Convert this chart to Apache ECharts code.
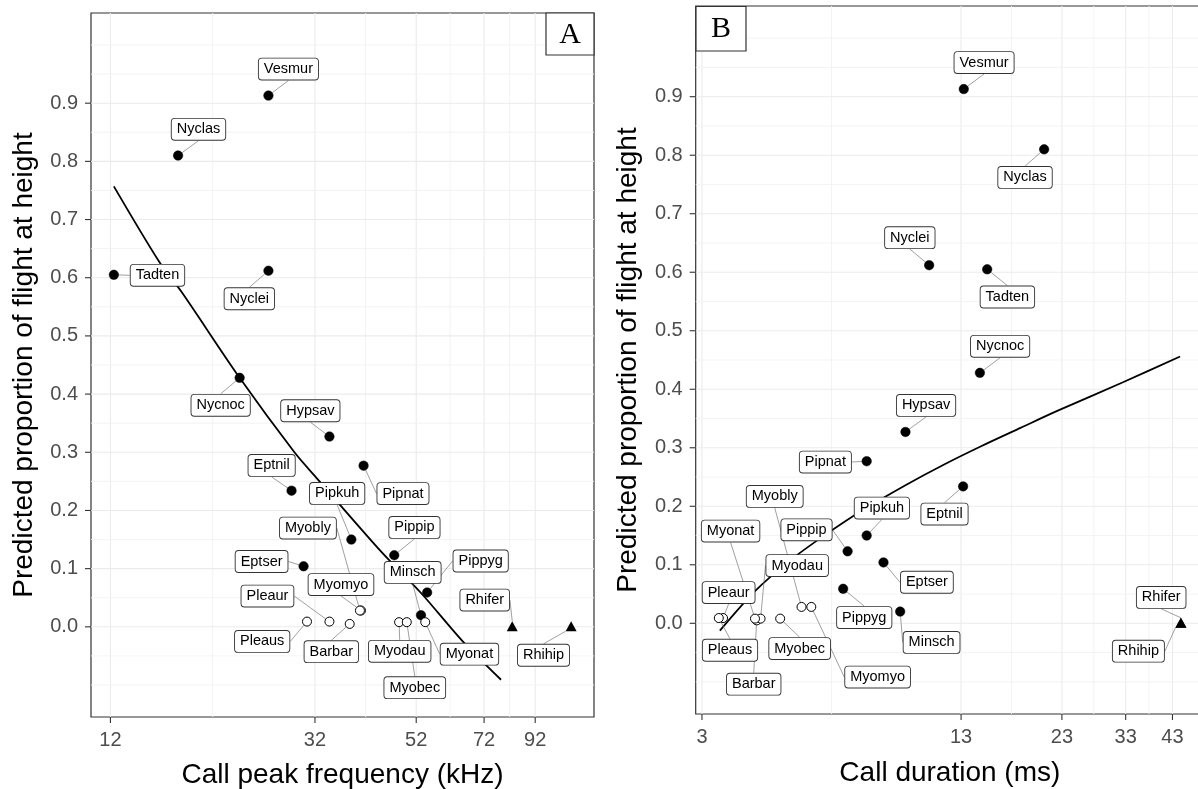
<!DOCTYPE html>
<html><head><meta charset="utf-8">
<script src="https://cdn.jsdelivr.net/npm/echarts@6/dist/echarts.min.js"></script>
<style>html,body{margin:0;padding:0;background:#fff}#c{width:1198px;height:789px}</style>
</head><body><div id="c"></div>
<script>
// ---------------- data ----------------
const species = ['Vesmur','Nyclas','Tadten','Nyclei','Nycnoc','Hypsav','Pipnat','Eptnil','Pipkuh','Pippip','Eptser','Pippyg','Minsch','Myomyo','Myobly','Pleaur','Pleaus','Barbar','Myodau','Myobec','Myonat','Rhifer','Rhihip'];
const markerType = ['filled','filled','filled','filled','filled','filled','filled','filled','filled','filled','filled','filled','filled','open','open','open','open','open','open','open','open','triangle','triangle'];
const propFlight = [0.913,0.810,0.605,0.612,0.428,0.327,0.277,0.234,0.150,0.123,0.104,0.059,0.020,0.028,0.028,0.009,0.009,0.005,0.008,0.008,0.008,0.001,0.001];
const peakFreq = [25.6,16.6,12.2,25.6,22.3,34.3,40.4,28.6,38.1,46.8,30.3,54.8,53.2,39.9,39.7,34.3,30.8,37.8,47.9,49.7,54.3,82.4,109.3];
const callDuration = [13.2,20.8,15.07,10.85,14.46,9.49,7.62,13.15,7.62,6.84,8.38,6.67,9.21,5.57,5.27,3.38,3.30,4.09,4.18,4.67,4.05,45.1,45.1];

const fitFreqKHz = [12.2,15.2,16.9,22.3,29.0,32.4,44.2,53.1,65.0,78.1];
const fitFreqProp = [0.757,0.626,0.575,0.428,0.300,0.254,0.127,0.059,-0.025,-0.091];
const fitDurMs = [3.32,4.05,4.95,6.05,7.39,9.49,11.78,14.6,18.2,22.4,32.5,44.9];
const fitDurProp = [-0.0125,0.055,0.108,0.152,0.192,0.236,0.271,0.303,0.334,0.363,0.412,0.456];

const freqTicks = [12,32,52,72,92];
const durTicks = [3,13,23,33,43];
const propTicks = [0,0.1,0.2,0.3,0.4,0.5,0.6,0.7,0.8,0.9];
const propLimits = [-0.1, 1.0];

// label placement (pixel offsets of label centre from its point)
const labelOffsetA = [[20,-26.5],[20.4,-26.2],[43.6,0.5],[-19.1,28],[-19,27.5],[-19.1,-25.8],[39.4,27.9],[-19.9,-25.2],[-14.2,-46.1],[20.2,-27.8],[-42,-4.8],[53.5,-31.5],[-8.3,-42.8],[-20,-26],[-52,-82.5],[-62,-25.5],[-44.8,19.8],[-18.4,27.8],[0.6,29.2],[8,65.5],[44.2,32],[-27.5,-26.2],[-27.6,29]];
const labelOffsetB = [[20.3,-26.5],[-19.1,28.1],[20.2,27.7],[-19.3,-27.5],[20.2,-26.5],[20.6,-26.5],[-41.3,0.8],[-18.6,27.7],[15.2,-27.5],[-41.1,-21.5],[43.4,19.8],[21.1,28.8],[31.4,30.8],[66.3,70.2],[-26.8,-110.5],[5.6,-25.5],[11.2,32.2],[-3,63.8],[36.6,-53],[19.5,30],[-24.4,-87.5],[-19.7,-25.3],[-42.5,28.5]];

// ---------------- helpers ----------------
const SANS = 'Liberation Sans, Arial, sans-serif';
const SERIF = 'Liberation Serif, Times New Roman, serif';
const ln = Math.log;
function expandLog(vals){ const a = Math.min(...vals.map(ln)), b = Math.max(...vals.map(ln)); const d=(b-a)*0.05; return [a-d,b+d]; }
const yExt = [propLimits[0]-(propLimits[1]-propLimits[0])*0.05, propLimits[1]+(propLimits[1]-propLimits[0])*0.05];
const xExtA = expandLog(peakFreq);
const xExtB = expandLog(callDuration);

// items: [value, kind, major]; kind 1 = vertical grid line, 0 = horizontal grid line, 2 = x tick, 3 = y tick
function gridData(ticks){
  const out = [];
  const lt = ticks.map(ln);
  lt.forEach(v => { out.push([v,1,1]); out.push([v,2,1]); });
  for (let i=0;i<lt.length-1;i++) out.push([(lt[i]+lt[i+1])/2,1,0]);
  for (let k=-2;k<=20;k++){ const v=k*0.05; if (v>=yExt[0] && v<=yExt[1]) { const major = (k>=0 && k<=18 && k%2===0); out.push([v,0,major?1:0]); } }
  propTicks.forEach(v => out.push([v,3,1]));
  return out;
}
function gridSeries(idx, ticks, xExt){
  return {
    type:'custom', xAxisIndex:idx, yAxisIndex:idx, z:0, silent:true, clip:false,
    data: gridData(ticks),
    renderItem: function(params, api){
      const v = api.value(0), kind = api.value(1), major = api.value(2);
      let p1, p2, stroke = major? '#EBEBEB':'#F2F2F2', lw = major?1.1:0.9;
      if (kind === 1){ p1 = api.coord([v, yExt[0]]); p2 = api.coord([v, yExt[1]]); }
      else if (kind === 0){ p1 = api.coord([xExt[0], v]); p2 = api.coord([xExt[1], v]); }
      else if (kind === 2){ p1 = api.coord([v, yExt[0]]); p2 = [p1[0], p1[1]+6]; stroke='#333'; lw=1.1; }
      else { p1 = api.coord([xExt[0], v]); p2 = [p1[0]-6, p1[1]]; stroke='#333'; lw=1.1; }
      return {type:'line', shape:{x1:p1[0],y1:p1[1],x2:p2[0],y2:p2[1]}, style:{stroke:stroke, lineWidth:lw}};
    }
  };
}
function pointData(xs){
  return species.map((s,i)=>{
    const t = markerType[i];
    const item = {name:s, value:[ln(xs[i]), propFlight[i]]};
    if (t==='filled'){ item.symbol='circle'; item.symbolSize=9.5; item.itemStyle={color:'#000', borderColor:'#000', borderWidth:0.5, opacity:1}; }
    else if (t==='open'){ item.symbol='circle'; item.symbolSize=9; item.itemStyle={color:'#fff', borderColor:'#000', borderWidth:1, opacity:1}; }
    else { item.symbol='triangle'; item.symbolSize=[11,10]; item.itemStyle={color:'#000', opacity:1}; }
    return item;
  });
}
function pointSeries(idx, xs, offsets){
  return {
    type:'scatter', xAxisIndex:idx, yAxisIndex:idx, z:4, silent:true,
    data: pointData(xs),
    label:{show:true, position:'inside', formatter: p=>p.name, color:'#000', fontFamily:SANS, fontSize:14.5,
      lineHeight:15, backgroundColor:'#fff', borderColor:'#333', borderWidth:0.9, borderRadius:3, padding:[3,5,3,5]},
    labelLine:{show:true, length2:0, lineStyle:{color:'#777', width:0.7}},
    labelLayout: function(p){ const o = offsets[p.dataIndex]; return {dx:o[0], dy:o[1]}; }
  };
}
function fitSeries(idx, xs, ys){
  return {type:'line', xAxisIndex:idx, yAxisIndex:idx, z:3, silent:true, showSymbol:false, smooth:0.3,
    data: xs.map((x,i)=>[ln(x), ys[i]]), lineStyle:{color:'#000', width:1.8}};
}
function xAxis(idx, ticks, ext, name, gap){
  return {type:'value', gridIndex:idx, min:ext[0], max:ext[1],
    axisLine:{show:false, onZero:false}, splitLine:{show:false}, axisTick:{show:false},
    axisLabel:{customValues: ticks.map(ln), formatter: v=>String(Math.round(Math.exp(v))), color:'#4D4D4D', fontSize:20, fontFamily:SANS, margin:13},
    name:name, nameLocation:'middle', nameGap:gap, nameTextStyle:{color:'#000', fontSize:28, fontFamily:SANS}};
}
function yAxis(idx){
  return {type:'value', gridIndex:idx, min:yExt[0], max:yExt[1],
    axisLine:{show:false, onZero:false}, splitLine:{show:false}, axisTick:{show:false},
    axisLabel:{customValues: propTicks, formatter: v=>v.toFixed(1), color:'#4D4D4D', fontSize:20, fontFamily:SANS, margin:13},
    name:'Predicted proportion of flight at height', nameLocation:'middle', nameGap:53, nameRotate:90,
    nameTextStyle:{color:'#000', fontSize:28, fontFamily:SANS}};
}

const chart = echarts.init(document.getElementById('c'), null, {renderer:'canvas'});
chart.setOption({
  animation:false,
  backgroundColor:'#fff',
  grid:[
    {left:91, top:13, width:503, height:704, show:true, borderColor:'#333', borderWidth:1.2, backgroundColor:'transparent', containLabel:false, outerBoundsMode:'none'},
    {left:695.7, top:6, width:508.3, height:708, show:true, borderColor:'#333', borderWidth:1.2, backgroundColor:'transparent', containLabel:false, outerBoundsMode:'none'}
  ],
  xAxis:[ xAxis(0, freqTicks, xExtA, 'Call peak frequency (kHz)', 44), xAxis(1, durTicks, xExtB, 'Call duration (ms)', 45) ],
  yAxis:[ yAxis(0), yAxis(1) ],
  series:[
    gridSeries(0, freqTicks, xExtA), gridSeries(1, durTicks, xExtB),
    fitSeries(0, fitFreqKHz, fitFreqProp), fitSeries(1, fitDurMs, fitDurProp),
    pointSeries(0, peakFreq, labelOffsetA), pointSeries(1, callDuration, labelOffsetB)
  ],
  graphic:[
    {type:'rect', z:50, shape:{x:546, y:13, width:48, height:42}, style:{fill:'#fff', stroke:'#333', lineWidth:1.2}},
    {type:'text', z:51, x:570, y:35, style:{text:'A', font:'30px '+SERIF, fill:'#000', align:'center', verticalAlign:'middle'}},
    {type:'rect', z:50, shape:{x:696, y:6.5, width:50, height:44.5}, style:{fill:'#fff', stroke:'#333', lineWidth:1.2}},
    {type:'text', z:51, x:721, y:29.5, style:{text:'B', font:'30px '+SERIF, fill:'#000', align:'center', verticalAlign:'middle'}}
  ]
});
</script></body></html>
